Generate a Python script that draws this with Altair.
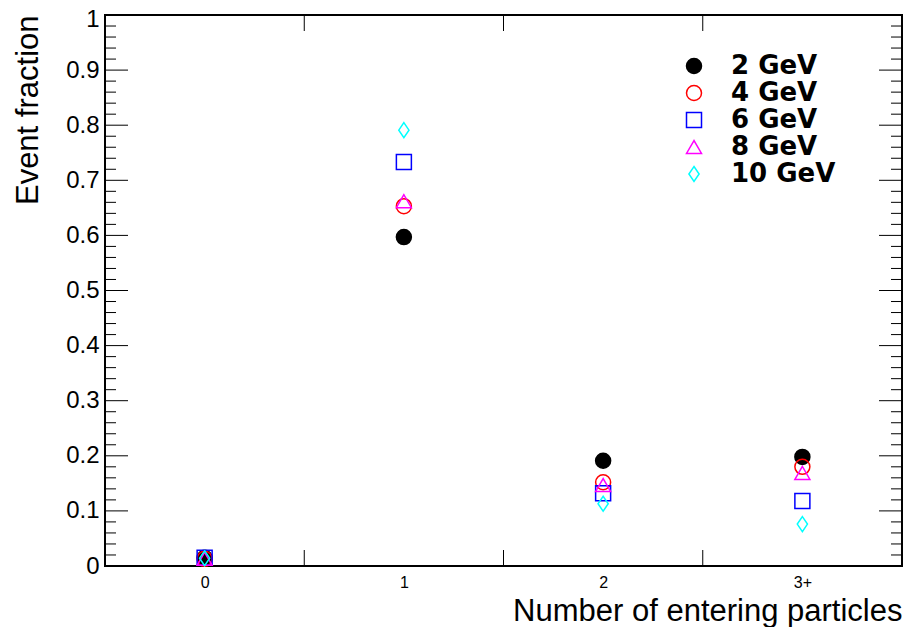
import altair as alt
import pandas as pd

# ---- data ----
categories = ["0", "1", "2", "3+"]
cat_index = [0, 1, 2, 3]
energies = ["2 GeV", "4 GeV", "6 GeV", "8 GeV", "10 GeV"]
frac_2gev = [0.015, 0.597, 0.191, 0.198]
frac_4gev = [0.013, 0.653, 0.152, 0.180]
frac_6gev = [0.015, 0.733, 0.132, 0.118]
frac_8gev = [0.013, 0.662, 0.147, 0.169]
frac_10gev = [0.014, 0.791, 0.113, 0.076]
colors = ["#000000", "#ff0000", "#0000ff", "#ff00ff", "#00ffff"]
fills = ["#000000", "transparent", "transparent", "transparent", "transparent"]
diamond = "M0,-1L0.68,0L0,1L-0.68,0Z"
shapes = ["circle", "circle", "square", "triangle-up", diamond]

y_major = [0, 0.1, 0.2, 0.3, 0.4, 0.5, 0.6, 0.7, 0.8, 0.9, 1]
y_minor = [0.02, 0.04, 0.06, 0.08, 0.12, 0.14, 0.16, 0.18, 0.22, 0.24, 0.26, 0.28,
           0.32, 0.34, 0.36, 0.38, 0.42, 0.44, 0.46, 0.48, 0.52, 0.54, 0.56, 0.58,
           0.62, 0.64, 0.66, 0.68, 0.72, 0.74, 0.76, 0.78, 0.82, 0.84, 0.86, 0.88,
           0.92, 0.94, 0.96, 0.98]
x_edges = [0.5, 1.5, 2.5]

series = [frac_2gev, frac_4gev, frac_6gev, frac_8gev, frac_10gev]
rows = []
for e, vals in zip(energies, series):
    for i, c, v in zip(cat_index, categories, vals):
        rows.append({"idx": i, "cat": c, "energy": e, "value": v})
df = pd.DataFrame(rows)

W, H = 797, 551
FONT = "Liberation Sans"

xscale = alt.Scale(domain=[-0.5, 3.5], nice=False, zero=False)
yscale = alt.Scale(domain=[0, 1], nice=False, zero=False)

legend = alt.Legend(
    title=None, orient="none", legendX=576, legendY=38, padding=0,
    labelFontSize=26, labelFont="DejaVu Sans", labelFontWeight="bold", labelColor="black",
    symbolSize=225, symbolStrokeWidth=1.5, labelOffset=24, rowPadding=1,
    symbolOpacity=1,
)

label_expr = "['0','1','2','3+'][datum.value]"

x_axis = alt.Axis(values=cat_index, labelExpr=label_expr, ticks=False, domain=False,
                  grid=False, labelFontSize=16, labelPadding=8, labelColor="black",
                  labelFont=FONT,
                  title="Number of entering particles", titleFontSize=31,
                  titleFontWeight="normal", titleFont=FONT, titleColor="black",
                  titleAnchor="end", titleBaseline="alphabetic", titleY=54)
y_axis = alt.Axis(values=y_major, format="~g", ticks=False, domain=False, grid=False,
                  labelFontSize=24, labelPadding=6, labelColor="black", labelFont=FONT,
                  labelOffset={"condition": {"test": "datum.value === 1", "value": 4}, "value": 0},
                  title="Event fraction", titleFontSize=31, titleFontWeight="normal",
                  titleFont=FONT, titleColor="black", titleAnchor="end",
                  titleBaseline="alphabetic", titleX=-68)

points = alt.Chart(df).mark_point(size=225, strokeWidth=1.5, opacity=1).encode(
    x=alt.X("idx:Q", scale=xscale, axis=x_axis),
    y=alt.Y("value:Q", scale=yscale, axis=y_axis),
    stroke=alt.Stroke("energy:N", scale=alt.Scale(domain=energies, range=colors), legend=legend),
    fill=alt.Fill("energy:N", scale=alt.Scale(domain=energies, range=fills), legend=legend),
    shape=alt.Shape("energy:N", scale=alt.Scale(domain=energies, range=shapes), legend=legend),
)

ymaj = pd.DataFrame({"value": y_major})
ymin = pd.DataFrame({"value": y_minor})
xed = pd.DataFrame({"idx": x_edges})

def ytick(data, x0, x1):
    return alt.Chart(data).mark_rule(color="black", strokeWidth=1).encode(
        y=alt.Y("value:Q", scale=yscale, axis=y_axis),
        x=alt.value(x0), x2=alt.value(x1))

def xtick(y0, y1):
    return alt.Chart(xed).mark_rule(color="black", strokeWidth=1).encode(
        x=alt.X("idx:Q", scale=xscale, axis=x_axis),
        y=alt.value(y0), y2=alt.value(y1))

ticks = [
    ytick(ymaj, 0, 23), ytick(ymin, 0, 11),
    ytick(ymaj, W - 23, W), ytick(ymin, W - 11, W),
    xtick(H, H - 16), xtick(0, 16),
]

chart = alt.layer(points, *ticks).properties(
    width=W, height=H,
    autosize=alt.AutoSizeParams(type="none"),
    padding={"left": 97, "top": 7, "right": 1, "bottom": 61},
).configure(font=FONT).configure_view(stroke="black", strokeWidth=2)

chart.save("out.html", embed_options={"renderer": "svg", "actions": False})
